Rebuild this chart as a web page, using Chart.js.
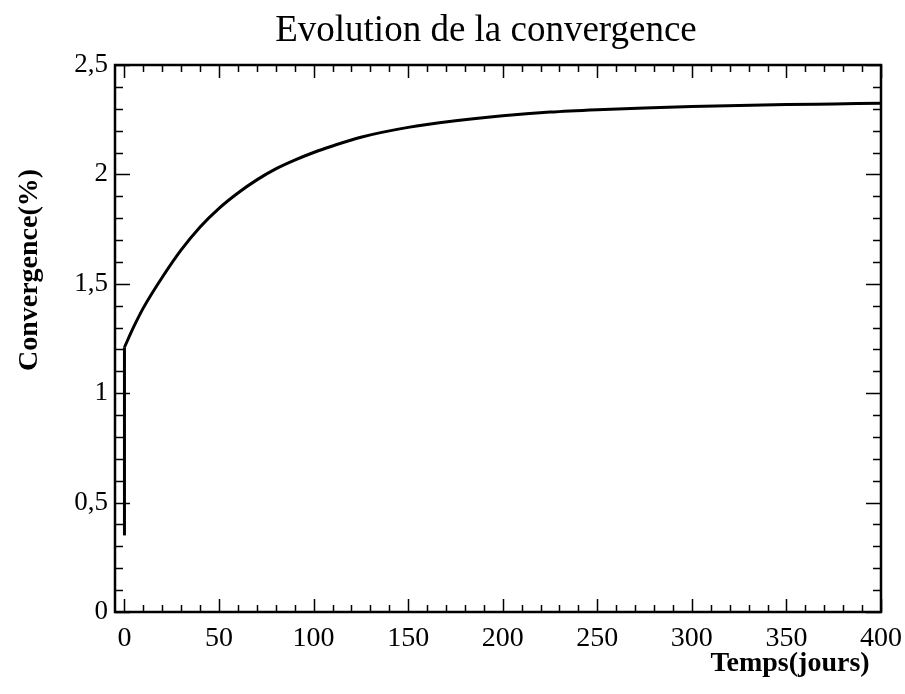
<!DOCTYPE html>
<html>
<head>
<meta charset="utf-8">
<script src="https://cdn.jsdelivr.net/npm/chart.js@4.4.0/dist/chart.umd.min.js"></script>
<style>
  body { margin: 0; background: #fff; }
  canvas { display: block; }
</style>
</head>
<body>
<canvas id="chart" width="905" height="694"></canvas>
<script>
// données
let days = [0, 5, 10, 20, 30, 40, 50, 60, 70, 80, 90, 100, 110, 125, 150, 175, 200, 225, 250, 275, 300, 325, 350, 375, 400];
let convergence = [1.21, 1.305, 1.39, 1.53, 1.655, 1.76, 1.845, 1.915, 1.975, 2.025, 2.065, 2.10, 2.13, 2.17, 2.215, 2.245, 2.268, 2.285, 2.296, 2.304, 2.31, 2.315, 2.319, 2.322, 2.325];
// saut initial à t = 0
let jumpDays = [0, 0];
let jumpValues = [0.35, 1.21];

let xTicks = [0, 50, 100, 150, 200, 250, 300, 350, 400];
let yTicks = [0, 0.5, 1, 1.5, 2, 2.5];
let xMinorStep = 10;
let yMinorStep = 0.1;

let titleText = "Evolution de la convergence";
let xTitle = "Temps(jours)";
let yTitle = "Convergence(%)";

const serif = "'Liberation Serif', 'DejaVu Serif', serif";

//---------------------------------------------
// cadre + graduations vers l'intérieur + titres
//---------------------------------------------
const frame = {
  id: "frame",
  afterDatasetsDraw(chart) {
    const { ctx, chartArea: a, scales } = chart;
    const x = scales.x, y = scales.y;
    ctx.save();
    ctx.strokeStyle = "#000";
    ctx.lineWidth = 1.5;
    ctx.beginPath();
    for (let t = 0; t <= 400; t += xMinorStep) {
      const px = Math.round(x.getPixelForValue(t)) + 0.5;
      const len = t % 50 === 0 ? 13 : 7;
      ctx.moveTo(px, a.bottom); ctx.lineTo(px, a.bottom - len);
      ctx.moveTo(px, a.top); ctx.lineTo(px, a.top + len);
    }
    for (let i = 0; i <= 25; i++) {
      const v = i * yMinorStep;
      const py = Math.round(y.getPixelForValue(v)) + 0.5;
      const len = i % 5 === 0 ? 15 : 8;
      ctx.moveTo(a.left, py); ctx.lineTo(a.left + len, py);
      ctx.moveTo(a.right, py); ctx.lineTo(a.right - len, py);
    }
    ctx.stroke();
    ctx.lineWidth = 2.5;
    ctx.strokeRect(a.left, a.top, a.right - a.left, a.bottom - a.top);

    ctx.fillStyle = "#000";
    ctx.textAlign = "center";
    // titre
    ctx.textBaseline = "alphabetic";
    ctx.font = "37px " + serif;
    ctx.fillText(titleText, 486, 41);
    // titres des axes
    ctx.textBaseline = "middle";
    ctx.font = "bold 28px " + serif;
    ctx.fillText(xTitle, 790, 664);
    ctx.translate(30, 270);
    ctx.rotate(-Math.PI / 2);
    ctx.fillText(yTitle, 0, 0);
    ctx.restore();
  },
};

const fmt = (v) => String(v).replace(".", ",");

new Chart(document.getElementById("chart"), {
  type: "line",
  data: {
    datasets: [
      {
        data: jumpDays.map((d, i) => ({ x: d, y: jumpValues[i] })),
        borderColor: "#000",
        borderWidth: 3,
        pointRadius: 0,
        tension: 0,
      },
      {
        data: days.map((d, i) => ({ x: d, y: convergence[i] })),
        borderColor: "#000",
        borderWidth: 3,
        pointRadius: 0,
        cubicInterpolationMode: "monotone",
      },
    ],
  },
  options: {
    responsive: false,
    animation: false,
    devicePixelRatio: 1,
    layout: { padding: { left: 0, right: 24, top: 65, bottom: 0 } },
    plugins: {
      legend: { display: false },
      tooltip: { enabled: false },
      title: { display: false },
    },
    scales: {
      x: {
        type: "linear",
        min: -5,
        max: 400,
        grid: { display: false, drawTicks: false },
        border: { display: false },
        afterBuildTicks: (s) => { s.ticks = xTicks.map((v) => ({ value: v })); },
        afterFit: (s) => {
          s.height = 82;
          s.paddingLeft = 0;
          s.paddingRight = 0;
        },
        ticks: {
          color: "#000",
          padding: 10,
          maxRotation: 0,
          font: { family: serif, size: 28 },
          callback: fmt,
        },
      },
      y: {
        min: 0,
        max: 2.5,
        grid: { display: false, drawTicks: false },
        border: { display: false },
        afterBuildTicks: (s) => { s.ticks = yTicks.map((v) => ({ value: v })); },
        afterFit: (s) => {
          s.width = 115;
          s.paddingTop = 0;
          s.paddingBottom = 0;
        },
        ticks: {
          color: "#000",
          padding: 7,
          font: { family: serif, size: 27 },
          callback: fmt,
        },
      },
    },
  },
  plugins: [frame],
});
</script>
</body>
</html>
